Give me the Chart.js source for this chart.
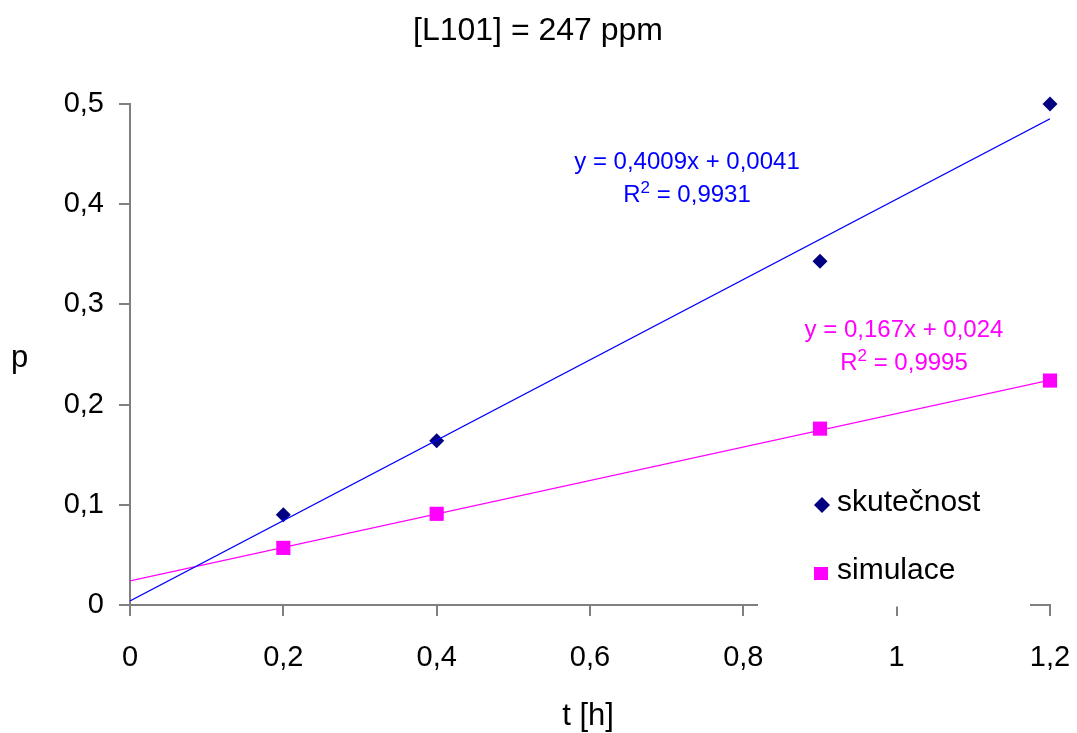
<!DOCTYPE html>
<html><head><meta charset="utf-8">
<script src="https://cdn.jsdelivr.net/npm/chart.js@4/dist/chart.umd.min.js"></script>
<style>html,body{margin:0;padding:0;background:#fff}</style>
</head><body>
<canvas id="c" width="1077" height="733"></canvas>
<script>
const timeH = [0.2, 0.4, 0.9, 1.2];
const skutecnost = [0.090, 0.164, 0.343, 0.500];
const simulace = [0.057, 0.091, 0.176, 0.224];
const trendX = [0, 1.2];
const trendSkut = [0.0041, 0.4852];
const trendSim = [0.024, 0.2244];
const seriesNames = ['skutečnost', 'simulace'];
const eqSkut = ['y = 0,4009x + 0,0041', '0,9931'];
const eqSim = ['y = 0,167x + 0,024', '0,9995'];
const chartTitle = '[L101] = 247 ppm';
const xTitle = 't [h]';
const yTitle = 'p';

const FONT = "'Liberation Sans', Arial, sans-serif";
const NAVY = '#000080', BLUE = '#0000ff', MAG = '#ff00ff', AX = '#808080';
const fmt = v => String(Math.round(v * 10) / 10).replace('.', ',');
const pts = (xs, ys) => xs.map((x, i) => ({x, y: ys[i]}));

function drawR2(ctx, value, cx, cy, size) {
  const big = size + 'px ' + FONT, small = Math.round(size * 0.7) + 'px ' + FONT;
  ctx.font = big;
  const wR = ctx.measureText('R').width;
  const wRest = ctx.measureText(' = ' + value).width;
  ctx.font = small;
  const w2 = ctx.measureText('2').width;
  const total = wR + w2 + wRest;
  let x = cx - total / 2;
  ctx.textAlign = 'left';
  ctx.font = big;
  ctx.fillText('R', x, cy);
  x += wR;
  ctx.font = small;
  ctx.fillText('2', x, cy - size * 0.28);
  x += w2;
  ctx.font = big;
  ctx.fillText(' = ' + value, x, cy);
}

const overlay = {
  id: 'overlay',
  afterDraw(chart) {
    const ctx = chart.ctx;
    ctx.save();
    ctx.textBaseline = 'middle';
    ctx.textAlign = 'center';
    ctx.fillStyle = '#000';
    ctx.font = '32px ' + FONT;
    ctx.fillText(chartTitle, 538, 31);
    ctx.font = '31px ' + FONT;
    ctx.fillText(xTitle, 588, 716);
    ctx.textAlign = 'left';
    ctx.fillText(yTitle, 11, 358);
    // equations
    ctx.textAlign = 'center';
    ctx.font = '24px ' + FONT;
    ctx.fillStyle = BLUE;
    ctx.fillText(eqSkut[0], 687, 162);
    drawR2(ctx, eqSkut[1], 687, 195, 24);
    ctx.fillStyle = MAG;
    ctx.textAlign = 'center';
    ctx.font = '24px ' + FONT;
    ctx.fillText(eqSim[0], 904, 330);
    drawR2(ctx, eqSim[1], 904, 363, 24);
    // legend box
    ctx.fillStyle = '#fff';
    ctx.fillRect(758, 468, 272, 138.5);
    ctx.fillStyle = NAVY;
    ctx.beginPath();
    ctx.moveTo(822, 497); ctx.lineTo(830, 505); ctx.lineTo(822, 513); ctx.lineTo(814, 505);
    ctx.closePath(); ctx.fill();
    ctx.fillStyle = MAG;
    ctx.fillRect(814, 567, 14, 13);
    ctx.fillStyle = '#000';
    ctx.textAlign = 'left';
    ctx.font = '30px ' + FONT;
    ctx.fillText(seriesNames[0], 837, 503);
    ctx.fillText(seriesNames[1], 837, 571);
    ctx.restore();
  }
};

new Chart(document.getElementById('c'), {
  type: 'scatter',
  data: {
    datasets: [
      {label: seriesNames[0] + ' trend', type: 'line', data: pts(trendX, trendSkut), borderColor: BLUE, borderWidth: 1.2, pointRadius: 0, fill: false},
      {label: seriesNames[1] + ' trend', type: 'line', data: pts(trendX, trendSim), borderColor: MAG, borderWidth: 1.2, pointRadius: 0, fill: false},
      {label: seriesNames[0], data: pts(timeH, skutecnost), pointStyle: 'rectRot', pointRadius: 7.5, backgroundColor: NAVY, borderColor: NAVY, borderWidth: 0, clip: false},
      {label: seriesNames[1], data: pts(timeH, simulace), pointStyle: 'rect', pointRadius: 10, backgroundColor: MAG, borderColor: MAG, borderWidth: 0, clip: false}
    ]
  },
  options: {
    responsive: false,
    animation: false,
    layout: {padding: {top: 104, right: 27, left: 0, bottom: 0}},
    plugins: {legend: {display: false}, title: {display: false}, tooltip: {enabled: false}},
    scales: {
      x: {
        type: 'linear', min: 0, max: 1.2,
        ticks: {stepSize: 0.2, callback: v => fmt(v), color: '#000', font: {family: FONT, size: 29}, padding: 25, maxRotation: 0},
        grid: {drawOnChartArea: false, drawTicks: true, tickLength: 11, color: AX, lineWidth: 2},
        border: {display: true, color: AX, width: 2},
        afterFit: s => { s.height = 128; s.paddingLeft = 0; s.paddingRight = 0; }
      },
      y: {
        type: 'linear', min: 0, max: 0.5,
        ticks: {stepSize: 0.1, callback: v => fmt(v), color: '#000', font: {family: FONT, size: 29}, padding: 15},
        grid: {drawOnChartArea: false, drawTicks: true, tickLength: 11, color: AX, lineWidth: 2},
        border: {display: true, color: AX, width: 2},
        afterFit: s => { s.width = 130; s.paddingTop = 0; s.paddingBottom = 0; }
      }
    }
  },
  plugins: [overlay]
});
</script>
</body></html>
